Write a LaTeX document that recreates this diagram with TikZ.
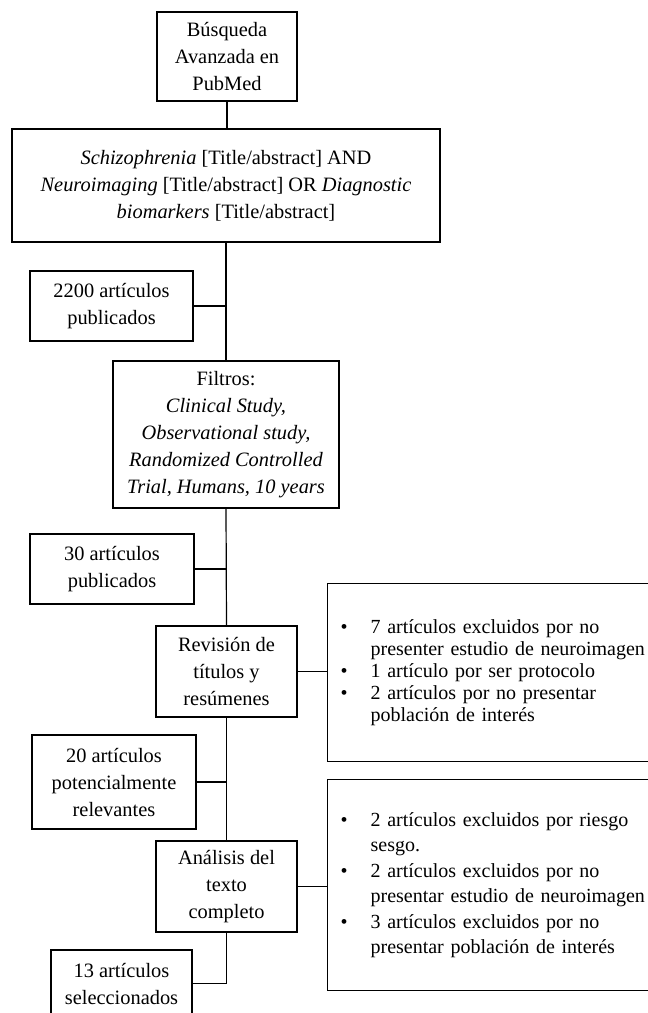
\documentclass[tikz,border=0pt]{standalone}
\usepackage{fontspec}
\setmainfont{Liberation Serif}
\usetikzlibrary{positioning}

\newcommand{\bul}{\makebox[15pt][l]{\textbullet}}
\newcommand{\ind}{\hspace*{15pt}}

\begin{document}
\begin{tikzpicture}[x = 0.5pt, y = -0.5pt,
        box/.style={rectangle, draw, line width=0.6pt, inner sep=0pt, align=center,
            font=\fontsize{10.2pt}{13.5pt}\selectfont},
        excl/.style={rectangle, draw, line width=0.6pt, anchor=north west, inner xsep=6.5pt,
            inner ysep=0pt, text width=200pt, align=left},
        link/.style={line width=0.6pt}
    ]

        \useasboundingbox (0,0) rectangle (648,1013);

        % Nodes: main column
        \node[box, minimum width=70pt, minimum height=44.5pt] (search) at (227,56.5) {Búsqueda\\Avanzada en\\PubMed};
        \node[box, minimum width=214pt, minimum height=56.5pt] (query) at (226,185.5)
            {\textit{Schizophrenia} [Title/abstract] AND\\\textit{Neuroimaging} [Title/abstract] OR \textit{Diagnostic}\\\textit{biomarkers} [Title/abstract]};
        \node[box, minimum width=113pt, minimum height=73.5pt] (filtros) at (226,434.5)
            {Filtros:\\\textit{Clinical Study,}\\\textit{Observational study,}\\\textit{Randomized Controlled}\\\textit{Trial, Humans, 10 years}};
        \node[box, minimum width=70.5pt, minimum height=45.5pt] (revision) at (226.5,671.5) {Revisión de\\títulos y\\resúmenes};
        \node[box, minimum width=70.5pt, minimum height=45.5pt] (analisis) at (226.5,886.5) {Análisis del\\texto\\completo};

        % Nodes: counts
        \node[box, minimum width=81.5pt, minimum height=35pt] (n2200) at (111.5,306) {2200 artículos\\publicados};
        \node[box, minimum width=82pt, minimum height=35pt] (n30) at (112,569) {30 artículos\\publicados};
        \node[box, minimum width=82pt, minimum height=47pt] (n20) at (114,782) {20 artículos\\potencialmente\\relevantes};
        \node[box, minimum width=70.5pt, minimum height=33.5pt] (n13) at (121.5,983.5) {13 artículos\\seleccionados};

        % Nodes: exclusions
        \node[excl, minimum height=89pt, font=\fontsize{10pt}{11pt}\selectfont] (excl1) at (327,583)
            {\bul 7 artículos excluidos por no\\\ind presenter estudio de neuroimagen\\
             \bul 1 artículo por ser protocolo\\
             \bul 2 artículos por no presentar\\\ind población de interés};
        \node[excl, minimum height=105.5pt, font=\fontsize{10pt}{12.7pt}\selectfont] (excl2) at (327,779)
            {\bul 2 artículos excluidos por riesgo\\\ind sesgo.\\
             \bul 2 artículos excluidos por no\\\ind presentar estudio de neuroimagen\\
             \bul 3 artículos excluidos por no\\\ind presentar población de interés};

        % Paths: main line
        \draw[link] (search.south) -- (search.south |- query.north);
        \draw[link] (query.south) -- (filtros.north);
        \draw[link] (filtros.south) -- (revision.north);
        \draw[link] (revision.south) -- (analisis.north);
        \draw[link] (analisis.south) |- (n13.east);

        % Paths: side boxes
        \draw[link] (n2200.east) -- (n2200.east -| query.south);
        \draw[link] (n30.east) -- (n30.east -| filtros.south);
        \draw[link] (n20.east) -- (n20.east -| revision.south);
        \draw[link] (revision.east) -- (revision.east -| excl1.west);
        \draw[link] (analisis.east) -- (analisis.east -| excl2.west);

    \end{tikzpicture}
\end{document}
